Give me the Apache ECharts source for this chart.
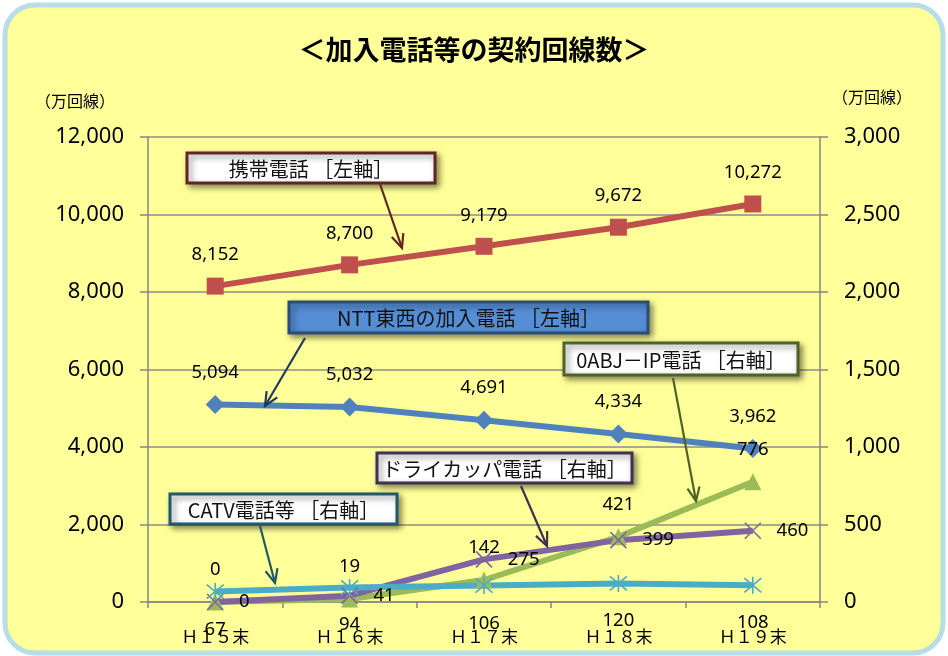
<!DOCTYPE html>
<html>
<head>
<meta charset="utf-8">
<script src="https://cdn.jsdelivr.net/npm/echarts@6/dist/echarts.min.js"></script>
<style>
html,body{margin:0;padding:0;background:#fff;}
#chart{width:948px;height:656px;}
</style>
</head>
<body>
<div id="chart"></div>
<script>
// ---- data ----
const categories = ['Ｈ１５末', 'Ｈ１６末', 'Ｈ１７末', 'Ｈ１８末', 'Ｈ１９末'];
const mobile = [8152, 8700, 9179, 9672, 10272];      // 携帯電話 [左軸]
const nttFixed = [5094, 5032, 4691, 4334, 3962];     // NTT東西の加入電話 [左軸]
const ipPhone = [0, 19, 142, 421, 776];              // 0ABJ－IP電話 [右軸]
const dryCopper = [0, 41, 275, 399, 460];            // ドライカッパ電話 [右軸]
const catv = [67, 94, 106, 120, 108];                // CATV電話等 [右軸]
const leftTicks = { min: 0, max: 12000, interval: 2000 };
const rightTicks = { min: 0, max: 3000, interval: 500 };
const seriesNames = ['携帯電話 ［左軸］', 'NTT東西の加入電話 ［左軸］', '0ABJ－IP電話 ［右軸］', 'ドライカッパ電話 ［右軸］', 'CATV電話等 ［右軸］'];
const titleText = '＜加入電話等の契約回線数＞';
const unitText = '（万回線）';

const JP = '"Noto Sans CJK JP", "Noto Sans", sans-serif';
const NUM = '"Noto Sans", "Liberation Sans", sans-serif';
const comma = v => String(v).replace(/\B(?=(\d{3})+(?!\d))/g, ',');

function lbl(pos, dist) {
  return { show: true, position: pos, distance: dist, color: '#000', fontSize: 18.5, fontFamily: NUM,
    formatter: p => comma(p.value) };
}

function arrow(x0, y0, x1, y1, color) {
  const ang = Math.atan2(y1 - y0, x1 - x0), L = 15, a = 0.42;
  return [
    { type: 'line', z: 100, shape: { x1: x0, y1: y0, x2: x1, y2: y1 }, style: { stroke: color, lineWidth: 2.2 } },
    { type: 'polyline', z: 100, shape: { points: [
      [x1 - L * Math.cos(ang - a), y1 - L * Math.sin(ang - a)], [x1, y1],
      [x1 - L * Math.cos(ang + a), y1 - L * Math.sin(ang + a)]] },
      style: { stroke: color, lineWidth: 2.2, fill: null } }
  ];
}
function box(x, y, w, h, text, fill, stroke) {
  return [
    { type: 'rect', z: 100, shape: { x: x, y: y, width: w, height: h },
      style: { fill: fill, stroke: stroke, lineWidth: 3, shadowBlur: 6, shadowOffsetX: 3, shadowOffsetY: 3, shadowColor: 'rgba(0,0,0,0.45)' } },
    { type: 'text', z: 101, x: x + w / 2, y: y + h / 2 + 1,
      style: { text: text, fill: '#111', font: '20px ' + JP, align: 'center', verticalAlign: 'middle' } }
  ];
}

const graphics = [
  { type: 'rect', z: -10, silent: true, shape: { x: 5, y: 5, width: 938, height: 648, r: 30 },
    style: { fill: '#FFFF99', stroke: '#B7DDE8', lineWidth: 5 } },
  { type: 'text', x: 75, y: 101, style: { text: unitText, fill: '#000', font: '16px ' + JP, align: 'center', verticalAlign: 'middle' } },
  { type: 'text', x: 872, y: 97, style: { text: unitText, fill: '#000', font: '16px ' + JP, align: 'center', verticalAlign: 'middle' } },
  ...box(187, 153, 248, 30, seriesNames[0], '#FFFFFF', '#632523'),
  ...arrow(380, 184, 402, 248, '#632523'),
  ...box(289, 302, 359, 31, seriesNames[1], '#558ED5', '#2C4D75'),
  ...arrow(305, 338, 265, 406, '#1F3A5F'),
  ...box(564, 343, 234, 32, seriesNames[2], '#FFFFFF', '#4F6228'),
  ...arrow(673, 378, 696, 501, '#4F6228'),
  ...box(377, 453, 255, 30, seriesNames[3], '#FFFFFF', '#3F3151'),
  ...arrow(521, 486, 547, 546, '#3F3151'),
  ...box(170, 494, 227, 30, seriesNames[4], '#FFFFFF', '#215968'),
  ...arrow(260, 526, 275, 583, '#215968')
];

const chart = echarts.init(document.getElementById('chart'), null, { renderer: 'canvas' });
chart.setOption({
  animation: false,
  backgroundColor: '#ffffff',
  title: { text: titleText, left: 'center', top: 31,
    textStyle: { fontSize: 27, fontWeight: 'bold', color: '#000', fontFamily: JP } },
  grid: { left: 148, right: 128, top: 137, bottom: 54 },
  xAxis: {
    type: 'category', data: categories, boundaryGap: true,
    axisLine: { lineStyle: { color: '#868686', width: 1.5 } },
    axisTick: { show: true, length: 6, lineStyle: { color: '#868686', width: 1.5 } },
    axisLabel: { color: '#000', fontSize: 17, fontFamily: JP, margin: 26 }
  },
  yAxis: [
    { type: 'value', position: 'left', min: leftTicks.min, max: leftTicks.max, interval: leftTicks.interval,
      axisLine: { show: true, lineStyle: { color: '#868686', width: 1.5 } },
      axisTick: { show: true, length: 8, lineStyle: { color: '#868686', width: 1.5 } },
      splitLine: { show: true, lineStyle: { color: '#8C8C8C', width: 1.5 } },
      axisLabel: { color: '#000', fontSize: 22, fontFamily: NUM, margin: 24, formatter: v => comma(v) } },
    { type: 'value', position: 'right', min: rightTicks.min, max: rightTicks.max, interval: rightTicks.interval,
      axisLine: { show: true, lineStyle: { color: '#868686', width: 1.5 } },
      axisTick: { show: true, length: 8, lineStyle: { color: '#868686', width: 1.5 } },
      splitLine: { show: false },
      axisLabel: { color: '#000', fontSize: 22, fontFamily: NUM, margin: 24, formatter: v => comma(v) } }
  ],
  series: [
    { name: seriesNames[0], type: 'line', yAxisIndex: 0, data: mobile,
      symbol: 'rect', symbolSize: 17, lineStyle: { color: '#C0504D', width: 6 },
      itemStyle: { color: '#C0504D' }, label: lbl('top', 13) },
    { name: seriesNames[1], type: 'line', yAxisIndex: 0, data: nttFixed,
      symbol: 'diamond', symbolSize: 19, lineStyle: { color: '#4F81BD', width: 6 },
      itemStyle: { color: '#4F81BD' }, label: lbl('top', 13) },
    { name: seriesNames[2], type: 'line', yAxisIndex: 1, data: ipPhone,
      symbol: 'triangle', symbolSize: 17, lineStyle: { color: '#9BBB59', width: 6 },
      itemStyle: { color: '#9BBB59' }, label: lbl('top', 14) },
    { name: seriesNames[3], type: 'line', yAxisIndex: 1, data: dryCopper,
      symbol: 'path://M0,0L10,10M10,0L0,10', symbolSize: 16, lineStyle: { color: '#8064A2', width: 6 },
      itemStyle: { color: '#8064A2', borderColor: '#8064A2', borderWidth: 1.6 }, label: lbl('right', 15) },
    { name: seriesNames[4], type: 'line', yAxisIndex: 1, data: catv,
      symbol: 'path://M0,0L10,10M10,0L0,10M5,-1L5,11', symbolSize: 17, lineStyle: { color: '#4BACC6', width: 6 },
      itemStyle: { color: '#4BACC6', borderColor: '#4BACC6', borderWidth: 1.6 }, label: lbl('bottom', 19) }
  ],
  graphic: graphics
});
</script>
</body>
</html>
